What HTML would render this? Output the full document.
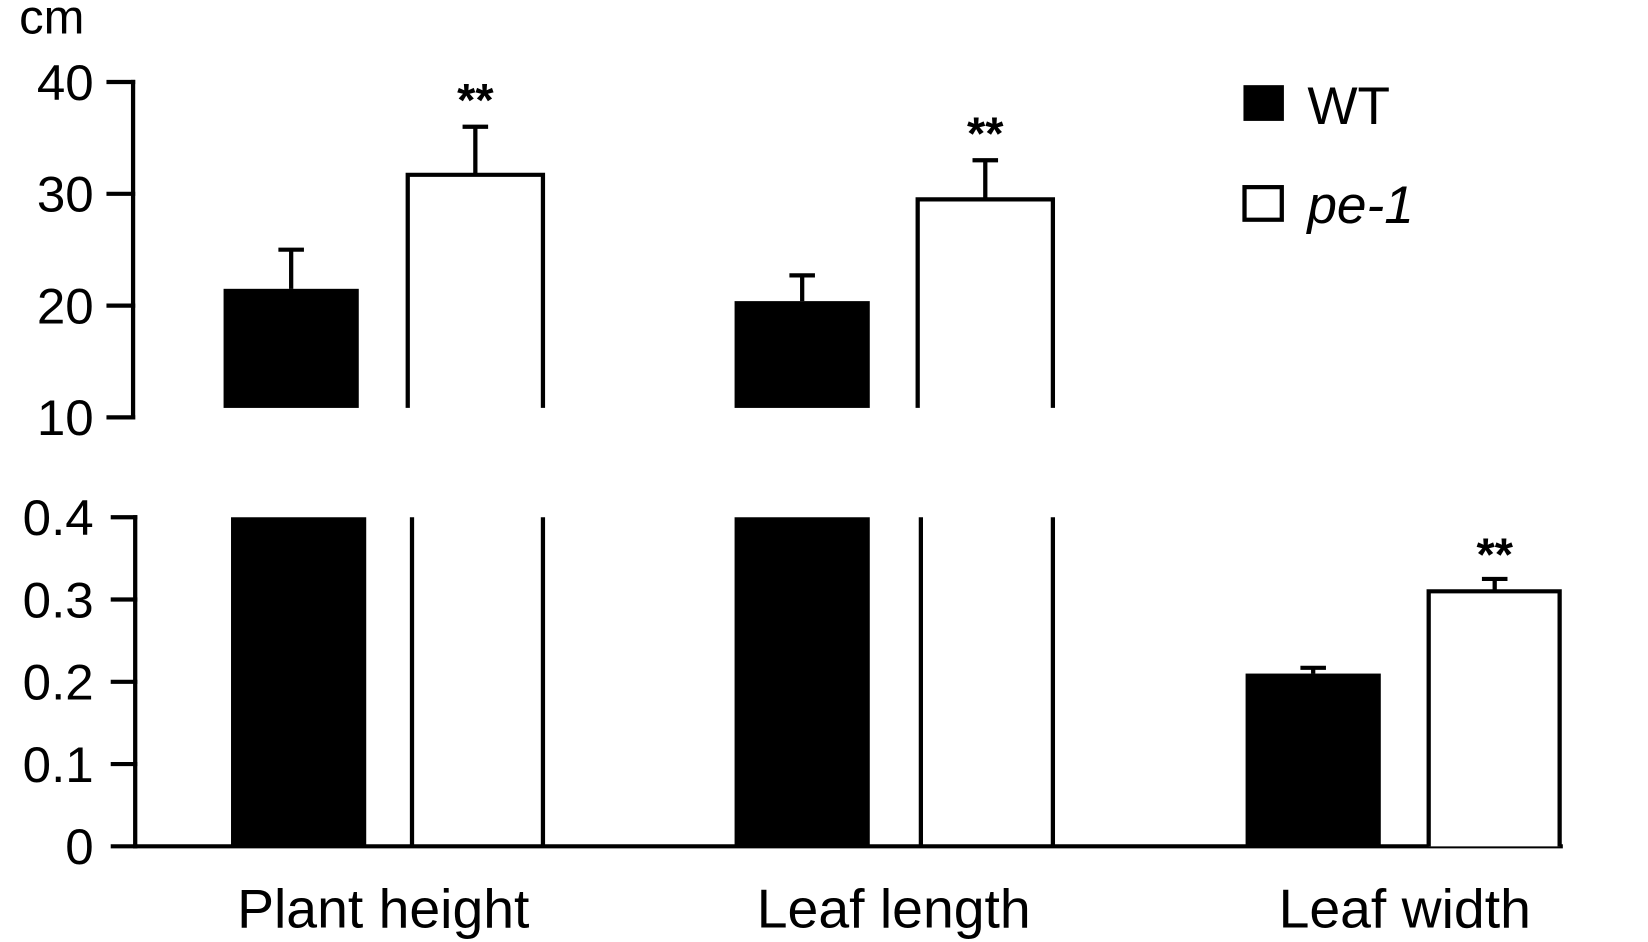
<!DOCTYPE html>
<html><head><meta charset="utf-8"><style>
html,body{margin:0;padding:0;background:#fff;}
svg{display:block;}
text{font-family:"Liberation Sans",Arial,sans-serif;fill:#000;}
</style></head><body>
<svg id="chart" width="1648" height="942" viewBox="0 0 1548 896" preserveAspectRatio="none" xmlns="http://www.w3.org/2000/svg">
<text x="18" y="32" font-size="46">cm</text>
<g id="axes"></g>
<g id="bars"></g>
<g>
<rect x="1168" y="81" width="38" height="34" fill="#000"/>
<text x="1228" y="118" font-size="50">WT</text>
<rect x="1169" y="178" width="35" height="31" fill="#fff" stroke="#000" stroke-width="4"/>
<text x="1228" y="212" font-size="50" font-style="italic">pe-1</text>
</g>
</svg>
<script>
const topCategories = ["Plant height", "Leaf length"];
const topWT = [21.5, 20.4];
const topWTerr = [3.5, 2.3];
const topPE = [31.7, 29.5];
const topPEerr = [4.3, 3.5];
const topTicks = [10, 20, 30, 40];
const lwWT = [0.21];
const lwWTerr = [0.007];
const lwPE = [0.31];
const lwPEerr = [0.015];
const bottomTicks = [0, 0.1, 0.2, 0.3, 0.4];
const bottomTickLabels = ["0", "0.1", "0.2", "0.3", "0.4"];
const xLabels = ["Plant height", "Leaf length", "Leaf width"];

const NS = "http://www.w3.org/2000/svg";
const axes = document.getElementById("axes");
const bars = document.getElementById("bars");
function mk(tag, attrs, parent, txt){const e=document.createElementNS(NS,tag);for(const k in attrs)e.setAttribute(k,attrs[k]);if(txt!==undefined)e.textContent=txt;parent.appendChild(e);return e;}
const yTop = v => 78 + (40 - v) * (397 - 78) / 30;
const yBot = v => 805 - v * (805 - 492) / 0.4;
const groupX = [210, 690, 1170];
const peX = [383, 862, 1342];
const barW = 127;

// top axis
let a = mk("line",{x1:125,y1:76,x2:125,y2:399,stroke:"#000","stroke-width":4},axes);


topTicks.forEach(t=>{
  const tk = mk("line",{x1:100,y1:yTop(t),x2:127,y2:yTop(t),stroke:"#000","stroke-width":4},axes);
  
  
  const lb = mk("text",{x:88,y:yTop(t)+17,"font-size":48,"text-anchor":"end"},axes,String(t));
  
  
});
// bottom axis
a = mk("line",{x1:127,y1:490,x2:127,y2:807,stroke:"#000","stroke-width":4},axes);


a = mk("line",{x1:125,y1:805,x2:1468,y2:805,stroke:"#000","stroke-width":4},axes);


bottomTicks.forEach((t,i)=>{
  const tk = mk("line",{x1:104,y1:yBot(t),x2:129,y2:yBot(t),stroke:"#000","stroke-width":4},axes);
  
  
  const lb = mk("text",{x:88,y:yBot(t)+17,"font-size":48,"text-anchor":"end"},axes,bottomTickLabels[i]);
  
  
});
xLabels.forEach((l,i)=>{
  const cx = (groupX[i] + peX[i] + barW)/2;
  const lb = mk("text",{x:cx,y:882,"font-size":52,"text-anchor":"middle"},axes,l);
  
  
});

function errBar(x, yv, ye){
  const l = mk("path",{d:`M${x},${yv} V${ye} M${x-12},${ye} H${x+12}`,stroke:"#000","stroke-width":4,fill:"none"},bars);
  
  
}
function star(x, y){
  const s = mk("text",{x:x,y:y,"font-size":44,"font-weight":"bold","text-anchor":"middle"},bars,"**");
  
  
}
// top panel bars
topCategories.forEach((c,i)=>{
  const bottom = 388;
  const yw = yTop(topWT[i]);
  let r = mk("rect",{x:groupX[i],y:yw,width:barW,height:bottom-yw,fill:"#000"},bars);
  
  
  errBar(groupX[i]+barW/2, yw, yTop(topWT[i]+topWTerr[i]));
  const yp = yTop(topPE[i]);
  r = mk("path",{d:`M${peX[i]},${bottom} V${yp} H${peX[i]+barW} V${bottom}`,fill:"#fff",stroke:"#000","stroke-width":4},bars);
  
  
  const ye = yTop(topPE[i]+topPEerr[i]);
  errBar(peX[i]+barW/2, yp, ye);
  star(peX[i]+barW/2, ye-10);
  // bottom continuation
  r = mk("rect",{x:groupX[i]+(i==0?7:0),y:492,width:barW,height:313,fill:"#000"},bars);
  
  
  r = mk("path",{d:`M${peX[i]+(i==0?4:3)},805 V492 M${peX[i]+barW},805 V492`,fill:"none",stroke:"#000","stroke-width":4},bars);
  
  
});
// leaf width
lwWT.forEach((v,i)=>{
  const yw = yBot(v);
  let r = mk("rect",{x:groupX[2],y:yw,width:barW,height:805-yw,fill:"#000"},bars);
  
  
  errBar(groupX[2]+barW/2, yw, yBot(v+lwWTerr[i]));
  const yp = yBot(lwPE[i]);
  r = mk("path",{d:`M${peX[2]},805 V${yp} H${peX[2]+123} V805`,fill:"#fff",stroke:"#000","stroke-width":4},bars);
  
  
  const ye = yBot(lwPE[i]+lwPEerr[i]);
  errBar(peX[2]+62, yp, ye);
  star(peX[2]+62, ye-8);
});
</script>
</body></html>
